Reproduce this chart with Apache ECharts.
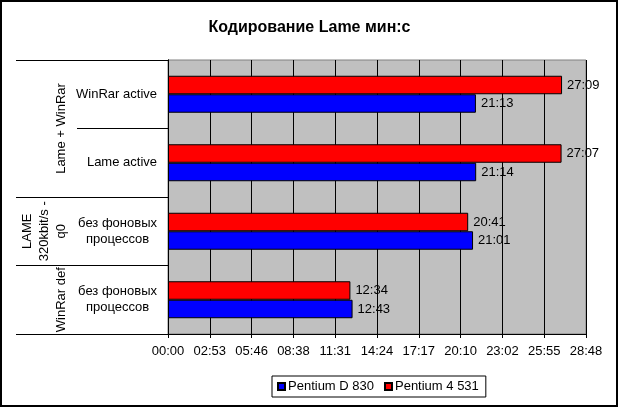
<!DOCTYPE html>
<html>
<head>
<meta charset="utf-8">
<script src="https://cdn.jsdelivr.net/npm/echarts@6/dist/echarts.min.js"></script>
<style>html,body{margin:0;padding:0;background:#fff}#chart{width:619px;height:408px}</style>
</head>
<body>
<div id="chart"></div>
<script>
var categories=['WinRar active','Lame active','без фоновых\nпроцессов','без фоновых\nпроцессов'];
var groupNames=['Lame + WinRar','LAME\n320kbit/s -\nq0','WinRar def'];
var groupSpans=[[0,1],[2,2],[3,3]];
var seriesNames=['Pentium D 830','Pentium 4 531'];
// время в секундах
var pentiumD=[1273,1274,1261,763];
var pentium4=[1629,1627,1241,754];
var axisMax=1728, axisStep=172.8;

var FONT='Arial, "Liberation Sans", sans-serif';
function mmss(v){
	var s=Math.round(v);
	var m=Math.floor(s/60);
	s=s%60;
	return (m<10?'0':'')+m+':'+(s<10?'0':'')+s;
}
function barLabel(p){return mmss(p.value);}

var myChart=echarts.init(document.getElementById('chart'));
var option={
	animation:false,
	title:{
		text:'Кодирование Lame мин:с',
		left:'center',
		top:15,
		textStyle:{fontFamily:FONT,fontSize:16,fontWeight:'bold',color:'#000'}
	},
	legend:{
		data:seriesNames,
		left:272,
		top:376,
		padding:[4,7,4,5],
		itemWidth:7,
		itemHeight:7,
		itemGap:10,
		borderColor:'#000',
		borderWidth:1,
		icon:'rect',
		textStyle:{fontFamily:FONT,fontSize:13,color:'#000',padding:[0,0,0,-2]}
	},
	grid:{left:168,right:33,top:60,bottom:74,show:true,backgroundColor:'#C0C0C0',borderColor:'#808080',borderWidth:1,outerBoundsMode:'none'},
	xAxis:{
		type:'value',
		min:0,
		max:axisMax,
		interval:axisStep,
		axisLine:{show:true,lineStyle:{color:'#000',width:1}},
		axisTick:{show:true,length:4,lineStyle:{color:'#000'}},
		splitLine:{show:true,lineStyle:{color:'#000',width:1}},
		axisLabel:{margin:11,fontFamily:FONT,fontSize:13,color:'#000',formatter:function(v){return mmss(v);}}
	},
	yAxis:[
		{
			type:'category',
			inverse:true,
			data:categories,
			axisLine:{show:true,lineStyle:{color:'#000',width:1}},
			axisTick:{show:true,length:91,interval:0,lineStyle:{color:'#000'}},
			axisLabel:{
				margin:11,
				interval:0,
				fontFamily:FONT,
				fontSize:13,
				color:'#000',
				formatter:function(v){
					return v.split('\n').map(function(s){return '{a|'+s+'}';}).join('\n');
				},
				rich:{a:{align:'center',fontFamily:FONT,fontSize:13,lineHeight:16,color:'#000'}}
			}
		},
		{
			type:'category',
			inverse:true,
			data:categories,
			position:'left',
			axisLine:{show:true,lineStyle:{color:'#000',width:1}},
			axisTick:{show:true,length:152,lineStyle:{color:'#000'},
				interval:function(idx){return idx!==1;}},
			axisLabel:{show:false}
		}
	],
	// красный столбец сверху, поэтому он идёт первым
	series:[
		{
			name:seriesNames[1],
			type:'bar',
			data:pentium4,
			barGap:'0%',
			barCategoryGap:'46%',
			itemStyle:{color:'#FF0000',borderColor:'#000',borderWidth:1},
			label:{show:true,position:'right',distance:5,fontFamily:FONT,fontSize:13,color:'#000',formatter:barLabel}
		},
		{
			name:seriesNames[0],
			type:'bar',
			data:pentiumD,
			barGap:'0%',
			barCategoryGap:'46%',
			itemStyle:{color:'#0000FF',borderColor:'#000',borderWidth:1},
			label:{show:true,position:'right',distance:5,fontFamily:FONT,fontSize:13,color:'#000',formatter:barLabel}
		}
	]
};
myChart.setOption(option);

// рамка и подписи второго уровня
var x0=myChart.convertToPixel({xAxisIndex:0},0);
var elements=[{
	type:'rect',
	shape:{x:1,y:1,width:616,height:405},
	style:{fill:'none',stroke:'#000',lineWidth:2},
	silent:true
}];
for(var i=0;i<groupNames.length;i++){
	var ya=myChart.convertToPixel({yAxisIndex:0},groupSpans[i][0]);
	var yb=myChart.convertToPixel({yAxisIndex:0},groupSpans[i][1]);
	elements.push({
		type:'text',
		x:x0-98,
		y:(ya+yb)/2,
		rotation:Math.PI/2,
		style:{text:groupNames[i],fontFamily:FONT,fontSize:13,fill:'#000',align:'center',verticalAlign:'bottom',lineHeight:17},
		silent:true
	});
}
myChart.setOption({graphic:elements});
</script>
</body>
</html>
